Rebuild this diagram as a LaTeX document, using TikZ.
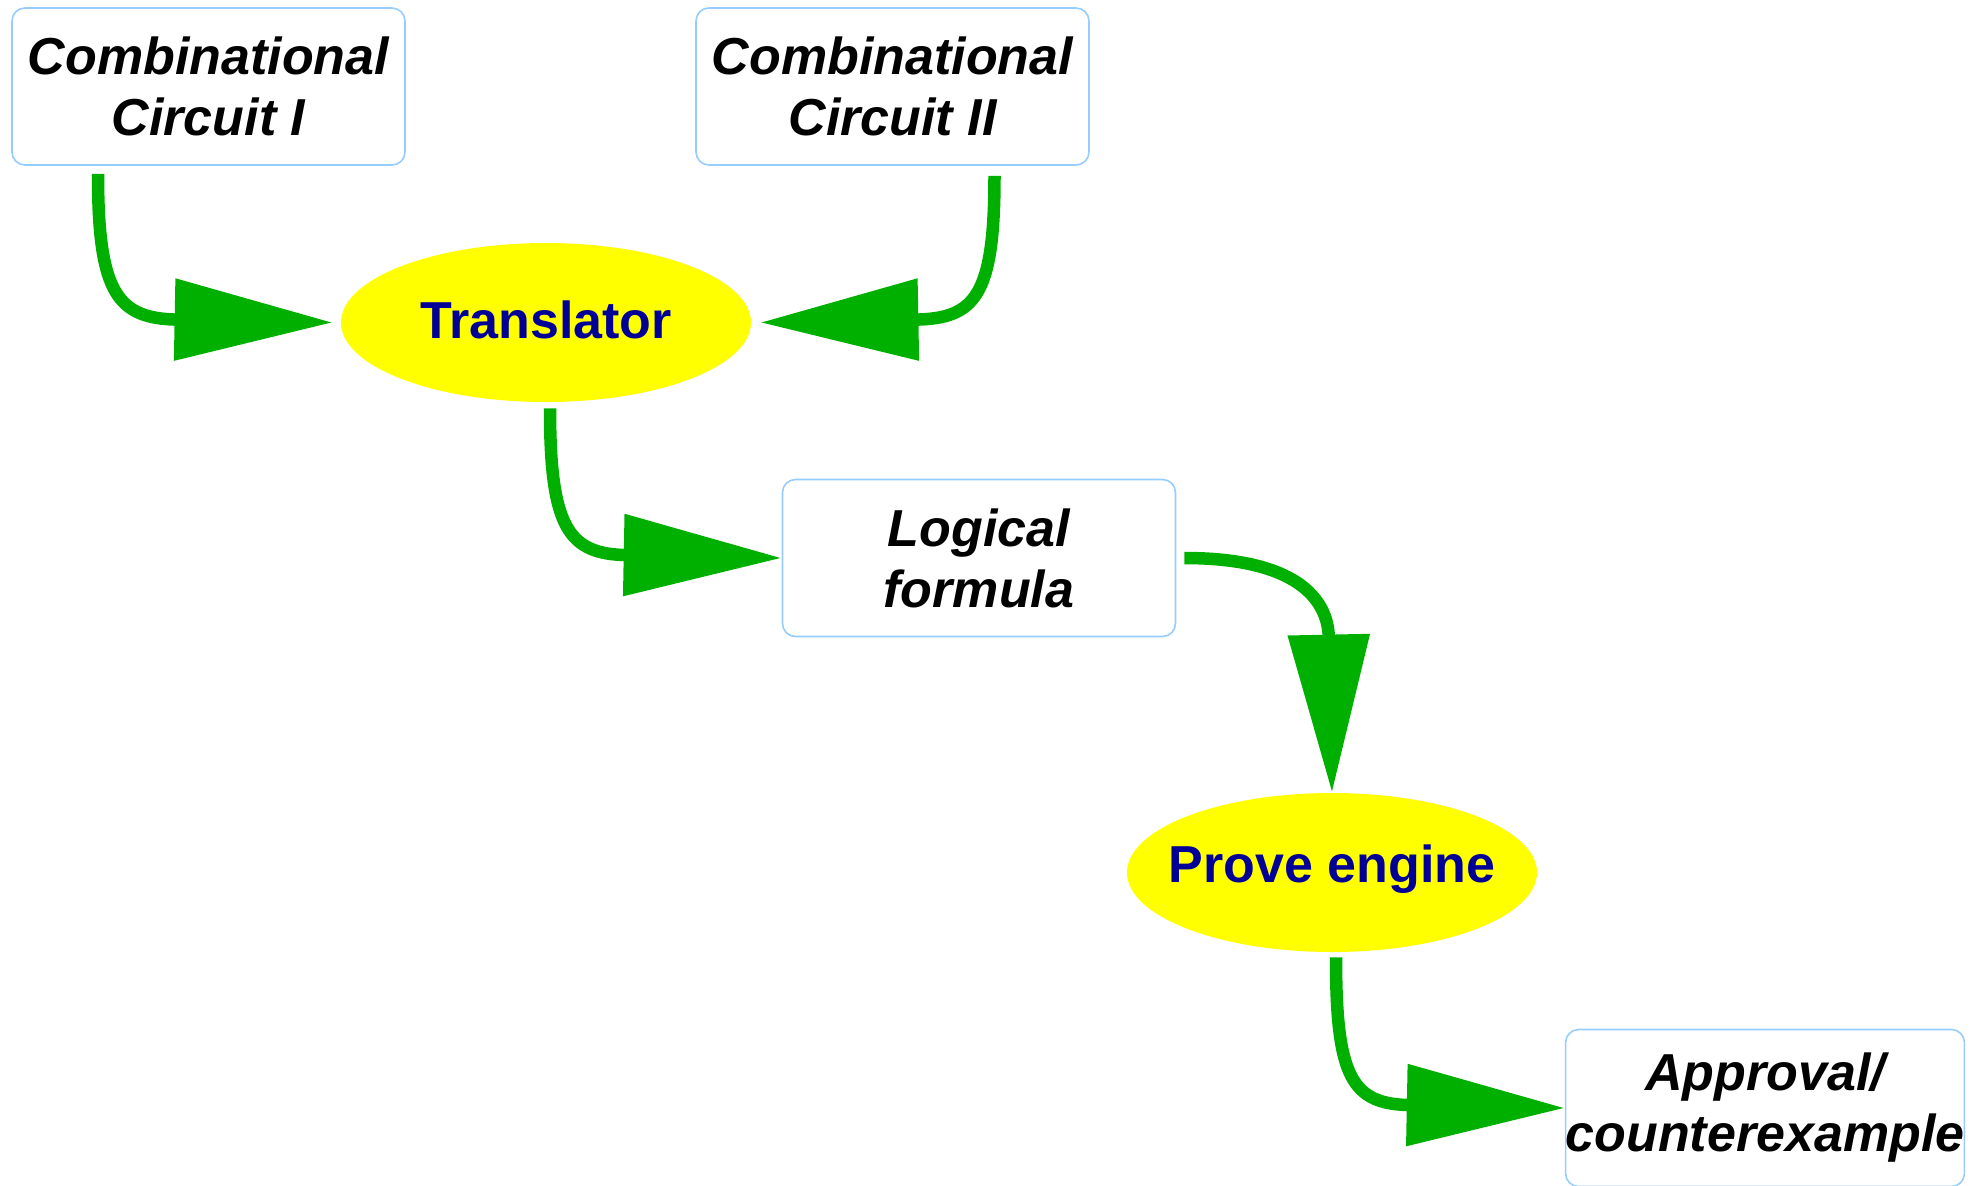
\documentclass[tikz,border=0pt]{standalone}
\usepackage{fontspec}
\setmainfont{Liberation Sans}
\usetikzlibrary{arrows.meta,shapes.geometric}
\definecolor{flowgreen}{RGB}{0,176,0}
\definecolor{padyellow}{RGB}{255,255,0}
\definecolor{textblue}{RGB}{0,0,150}
\definecolor{edgeblue}{RGB}{150,205,255}

\begin{document}
\begin{tikzpicture}[x=0.5pt,y=-0.5pt,
  unit/.style={draw=edgeblue,line width=0.8pt,rounded corners=6.5pt,
    minimum width=196.5pt,minimum height=78.5pt,inner sep=0pt,align=center,
    font=\fontsize{26}{30.5}\selectfont\bfseries\itshape},
  tool/.style={ellipse,fill=padyellow,minimum width=205pt,minimum height=79.5pt,inner sep=0pt},
  toollabel/.style={text=textblue,yshift=1.5pt,font=\fontsize{26}{30.5}\selectfont\bfseries},
  flow/.style={draw=flowgreen,line width=6.25pt,-{Triangle[length=79pt,width=39.5pt]}}]
  \useasboundingbox (0,0) rectangle (1988,1185);

  % boxes and tools
  \node[unit] (circA) at (208.5,86.5) {Combinational\\Circuit I};
  \node[unit] (circB) at (892.5,86.5) {Combinational\\Circuit II};
  \node[tool,label={[toollabel]center:Translator}] (transl) at (546,322.5) {};
  \node[unit] (formula) at (979,558) {Logical\\formula};
  \node[tool,label={[toollabel]center:Prove engine}] (prover) at (1332,872.5) {};
  \node[unit] (verdict) at (1765,1108) {Approval/\\counterexample};

  % flow
  \draw[flow] ([xshift=-55.25pt,yshift=-4pt]circA.south) .. controls +(0,120) and +(-215,-4) .. ([xshift=-4pt]transl.west);
  \draw[flow] ([xshift=51pt,yshift=-5pt]circB.south) .. controls +(0,120) and +(215,-4) .. ([xshift=4.5pt]transl.east);
  \draw[flow] ([xshift=2pt,yshift=-3pt]transl.south) .. controls +(0,120) and +(-213,-4) .. (formula.west);
  \draw[flow] ([xshift=4pt]formula.east) .. controls +(110,0) and +(-4,-195) .. (prover.north);
  \draw[flow] ([xshift=2pt,yshift=-2.5pt]prover.south) .. controls +(0,120) and +(-213,-4) .. (verdict.west);
\end{tikzpicture}
\end{document}
